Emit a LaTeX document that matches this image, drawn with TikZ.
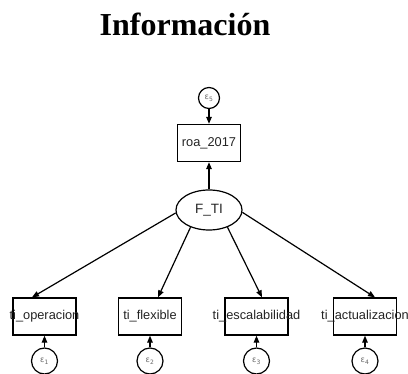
\documentclass[tikz,border=0pt]{standalone}
\usepackage{fontspec}
\setmainfont{Liberation Sans}
\newfontfamily\titlefont{Liberation Serif}
\newfontfamily\epsfont{DejaVu Sans}
\usetikzlibrary{arrows.meta,shapes.geometric,calc}
\definecolor{txt}{RGB}{35,35,35}
\definecolor{epstxt}{RGB}{100,100,100}
\begin{document}
\begin{tikzpicture}[x=1pt,y=-1pt,
  box/.style={draw, line width=1.3pt, minimum width=63pt, minimum height=37pt, inner sep=0pt,
    font=\fontsize{12.8}{14}\selectfont, text=txt},
  lat/.style={ellipse, draw, line width=1.2pt, minimum width=66pt, minimum height=40pt, inner sep=0pt,
    font=\fontsize{13.5}{15}\selectfont, text=txt},
  err/.style={circle, draw, line width=1.2pt, minimum size=26pt, inner sep=0pt,
    font=\epsfont\fontsize{8}{9}\selectfont, text=epstxt},
  arr/.style={draw, line width=1.2pt, -{Triangle[length=7pt,width=5.5pt]}},
]
\useasboundingbox (0,0) rectangle (408,374);
\node[anchor=base, font=\titlefont\bfseries\fontsize{32}{36}\selectfont] (title) at (185,36) {Información};

\node[err, minimum size=21pt] (e5) at (209,98) {ε\textsubscript{5}};
\node[box] (roa) at (209,143) {\makebox[0pt]{roa\_2017}};
\node[lat] (F) at (209,210) {F\_TI};

\node[box] (b1) at (44.5,316.5) {\makebox[0pt]{ti\_operacion}};
\node[box] (b2) at (150,316.5) {\makebox[0pt]{ti\_flexible}};
\node[box] (b3) at (256.5,316.5) {\makebox[0pt]{ti\_escalabilidad}};
\node[box] (b4) at (365,316.5) {\makebox[0pt]{ti\_actualizacion}};

\node[err] (e1) at (44.5,361) {ε\textsubscript{1}};
\node[err] (e2) at (150,361) {ε\textsubscript{2}};
\node[err] (e3) at (256.5,361) {ε\textsubscript{3}};
\node[err] (e4) at (365,361) {ε\textsubscript{4}};

\draw[arr] (e5) -- (roa);
\draw[arr] (F) -- (roa);
\draw[arr] (F.185) -- ($(b1.north)+(-12.5,0)$);
\draw[arr] (F.223) -- ($(b2.north)+(8,0)$);
\draw[arr] (F.317) -- ($(b3.north)+(5.5,0)$);
\draw[arr] (F.356) -- ($(b4.north)+(10,0)$);
\draw[arr] (e1) -- (b1);
\draw[arr] (e2) -- (b2);
\draw[arr] (e3) -- (b3);
\draw[arr] (e4) -- (b4);
\end{tikzpicture}
\end{document}
